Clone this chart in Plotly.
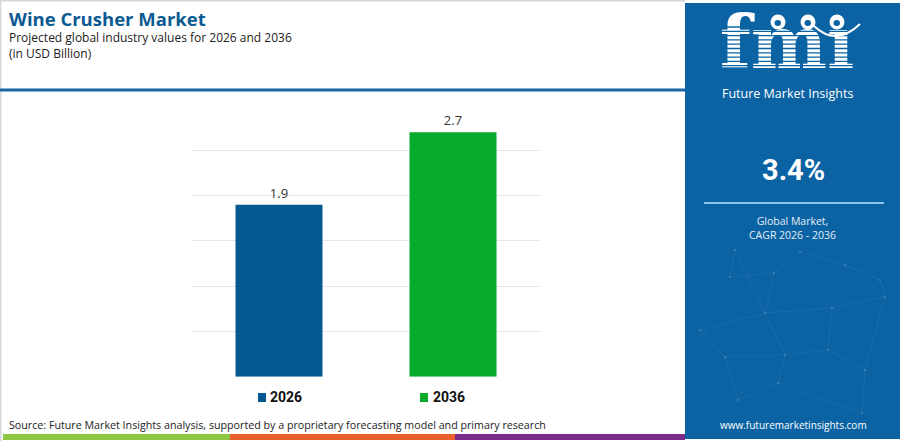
import plotly.graph_objects as go

# ---- data ----
years = ["2026", "2036"]
values = [1.9, 2.7]
bar_colors = ["#03588f", "#06ab2c"]
cagr_text = "3.4%"
title_text = "Wine Crusher Market"
subtitle_lines = ["Projected global industry values for 2026 and 2036", "(in USD Billion)"]
source_text = "Source: Future Market Insights analysis, supported by a proprietary forecasting model and primary research"

W, H = 900, 441
PANEL = "#0b63a3"


def px(x):
    return x / W


def py(y):
    return 1 - y / H


fig = go.Figure()

fig.add_trace(go.Bar(
    x=years, y=values,
    marker=dict(color=bar_colors, line=dict(width=0)),
    width=0.5,
    text=[f"{v:.1f}" for v in values],
    textposition="outside",
    textfont=dict(family="Open Sans", size=13, color="#333333"),
    cliponaxis=False,
    showlegend=False,
    hoverinfo="skip",
))

# logo text as a trace so that stripes (shapes above) overlay it
fig.add_trace(go.Scatter(
    x=[787], y=[50], mode="text", text=["<b>fm\u0131</b>"],
    textfont=dict(family="DejaVu Serif", size=72, color="white"),
    xaxis="x2", yaxis="y2", showlegend=False, hoverinfo="skip",
))

shapes = []
# right panel
shapes.append(dict(type="rect", xref="paper", yref="paper", x0=px(685), x1=px(900), y0=py(439), y1=py(3),
                   fillcolor=PANEL, line=dict(width=0), layer="below"))
# top/left light border
shapes.append(dict(type="line", xref="paper", yref="paper", x0=0, x1=px(685), y0=py(0.7), y1=py(0.7),
                   line=dict(color="#d8d8d8", width=1.5), layer="below"))
shapes.append(dict(type="line", xref="paper", yref="paper", x0=px(0.7), x1=px(0.7), y0=py(441), y1=py(0),
                   line=dict(color="#d8d8d8", width=1.5), layer="below"))
# header separator
shapes.append(dict(type="line", xref="paper", yref="paper", x0=0, x1=px(685), y0=py(90), y1=py(90),
                   line=dict(color="#1c67a3", width=3), layer="below"))
# bottom colour strip
for x0, x1, c in [(3, 230, "#8dc641"), (230, 455, "#e9602b"), (455, 685, "#7d2b8b")]:
    shapes.append(dict(type="rect", xref="paper", yref="paper", x0=px(x0), x1=px(x1), y0=py(440), y1=py(434),
                       fillcolor=c, line=dict(width=0), layer="below"))
# legend squares
for x0, c in [(258, bar_colors[0]), (420, bar_colors[1])]:
    shapes.append(dict(type="rect", xref="paper", yref="paper", x0=px(x0), x1=px(x0 + 8), y0=py(402), y1=py(393),
                       fillcolor=c, line=dict(width=0)))
# faint network texture in panel
nodes = [(735, 250), (730, 277), (800, 252), (774, 273), (765, 313), (832, 308), (880, 280),
         (885, 297), (725, 357), (785, 355), (828, 350), (865, 370), (738, 400), (778, 383), (862, 413),
         (700, 330), (845, 265)]
edges = [(0, 1), (0, 4), (1, 3), (2, 3), (2, 16), (16, 6), (6, 7), (3, 4), (4, 5), (5, 7), (4, 9), (8, 9),
         (9, 10), (10, 11), (11, 14), (12, 13), (13, 9), (8, 12), (13, 14), (5, 10), (15, 8), (15, 4), (7, 11)]
for a, b in edges:
    shapes.append(dict(type="line", xref="paper", yref="paper",
                       x0=px(nodes[a][0]), y0=py(nodes[a][1]), x1=px(nodes[b][0]), y1=py(nodes[b][1]),
                       line=dict(color="rgba(255,255,255,0.06)", width=1), layer="below"))
for (nx, ny) in nodes:
    shapes.append(dict(type="circle", xref="paper", yref="paper",
                       x0=px(nx - 1.2), x1=px(nx + 1.2), y0=py(ny + 1.2), y1=py(ny - 1.2),
                       fillcolor="rgba(255,255,255,0.14)", line=dict(width=0), layer="below"))
# logo stripes
yy = 27.0
while yy < 80:
    shapes.append(dict(type="line", xref="paper", yref="paper", x0=px(712), x1=px(866), y0=py(yy), y1=py(yy),
                       line=dict(color=PANEL, width=1.3), layer="above"))
    yy += 4.3
# globes
for gx in [778, 808, 837]:
    shapes.append(dict(type="circle", xref="paper", yref="paper", x0=px(gx - 7.5), x1=px(gx + 7.5),
                       y0=py(22 + 7.5), y1=py(22 - 7.5), fillcolor="white", line=dict(width=0), layer="above"))
    shapes.append(dict(type="circle", xref="paper", yref="paper", x0=px(gx - 3.5), x1=px(gx + 3),
                       y0=py(23 + 3), y1=py(23 - 3), fillcolor=PANEL, line=dict(width=0), layer="above"))
# smile arc
shapes.append(dict(type="path", xref="paper", yref="paper",
                   path=f"M {px(814)} {py(26)} Q {px(836)} {py(47)} {px(860)} {py(24)}",
                   line=dict(color="white", width=2), layer="above"))
# CAGR divider
shapes.append(dict(type="line", xref="paper", yref="paper", x0=px(704), x1=px(884), y0=py(203), y1=py(203),
                   line=dict(color="#8ec5ee", width=2), layer="above"))

annotations = []


def ann(text, x, y, size, color, family="Open Sans", xanchor="left", bold=False):
    annotations.append(dict(text=f"<b>{text}</b>" if bold else text, x=px(x), y=py(y), xref="paper", yref="paper",
                            xanchor=xanchor, yanchor="middle", showarrow=False, align=xanchor if xanchor != "center" else "center",
                            font=dict(family=family, size=size, color=color)))


ann(title_text, 7, 18, 18.5, "#0b5a92", bold=True)
ann("<br>".join(subtitle_lines), 7, 45, 12, "#222222")
ann(source_text, 7, 425, 10.7, "#222222")
ann(years[0], 268, 397, 14, "#111111", family="Roboto", bold=True)
ann(years[1], 431, 397, 14, "#111111", family="Roboto", bold=True)
ann("Future Market Insights", 787, 93, 12.5, "white", xanchor="center")
ann(cagr_text, 793, 170, 29, "white", family="Roboto", xanchor="center", bold=True)
ann("Global Market,<br>CAGR 2026 - 2036", 792, 228, 10.5, "#e4eef7", xanchor="center")
ann("www.futuremarketinsights.com", 793, 425, 10, "white", xanchor="center")

fig.update_layout(
    width=W, height=H,
    margin=dict(l=0, r=0, t=0, b=0),
    paper_bgcolor="white", plot_bgcolor="rgba(0,0,0,0)",
    showlegend=False,
    bargap=0.5,
    xaxis=dict(domain=[px(192), px(540)], showticklabels=False, showgrid=False, zeroline=False,
               showline=False, ticks="", fixedrange=True),
    yaxis=dict(domain=[py(376.7), py(105)], range=[0, 3.001], dtick=0.5, showticklabels=False,
               showgrid=True, gridcolor="#e6e6e6", gridwidth=1, zeroline=False, showline=False, ticks="",
               fixedrange=True),
    xaxis2=dict(domain=[0, 1], range=[0, W], visible=False, anchor="y2", fixedrange=True),
    yaxis2=dict(domain=[0, 1], range=[H, 0], visible=False, anchor="x2", fixedrange=True),
    shapes=shapes,
    annotations=annotations,
)

fig.write_html("out.html", config={"displayModeBar": False},
               post_script="document.body.style.margin='0';document.body.style.overflow='hidden';")
